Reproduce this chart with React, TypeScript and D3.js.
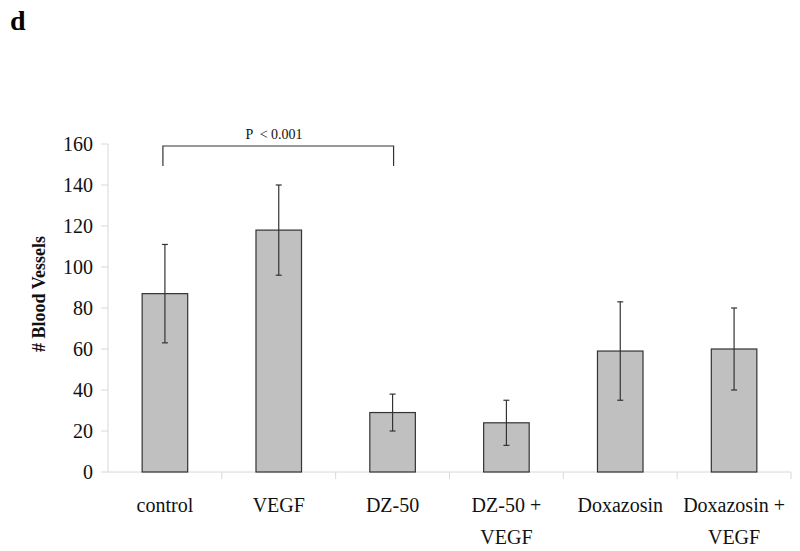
import React from "react";
import * as d3 from "d3";

const categories: string[][] = [
  ["control"],
  ["VEGF"],
  ["DZ-50"],
  ["DZ-50 +", "VEGF"],
  ["Doxazosin"],
  ["Doxazosin +", "VEGF"],
];
const means = [87, 118, 29, 24, 59, 60];
const errLow = [63, 96, 20, 13, 35, 40];
const errHigh = [111, 140, 38, 35, 83, 80];
const yTicks = [0, 20, 40, 60, 80, 100, 120, 140, 160];

const W = 800;
const H = 551;
const FONT = "'Liberation Serif', 'Times New Roman', serif";

export default function App() {
  const x = d3
    .scaleBand<number>()
    .domain(categories.map((_, i) => i))
    .range([108, 791])
    .paddingInner(0)
    .paddingOuter(0);
  const y = d3.scaleLinear().domain([0, 160]).range([472, 144]);
  const bw = x.bandwidth() * 0.4;
  const cx = (i: number) => (x(i) as number) + x.bandwidth() / 2;

  const b0 = cx(0);
  const b2 = cx(2);
  const bracketY = 146;

  return (
    <svg width={W} height={H} style={{ position: "absolute", left: 0, top: 0, background: "#fff" }}>
      <rect x={0} y={0} width={W} height={H} fill="#fff" />
      <text x={10} y={30} fontFamily={FONT} fontWeight="bold" fontSize={28}>
        d
      </text>
      {/* y axis */}
      <line x1={108} x2={108} y1={144} y2={472} stroke="#d8d8d8" strokeWidth={1} />
      {yTicks.map((t) => (
        <g key={t}>
          <line x1={101} x2={108} y1={y(t)} y2={y(t)} stroke="#d8d8d8" />
          <text
            x={93}
            y={y(t)}
            dy="0.35em"
            textAnchor="end"
            fontFamily={FONT}
            fontSize={20}
            fill="#111"
          >
            {t}
          </text>
        </g>
      ))}
      <text
        transform={`translate(45, 294) rotate(-90)`}
        textAnchor="middle"
        fontFamily={FONT}
        fontWeight="bold"
        fontSize={18}
        fill="#111"
      >
        # Blood Vessels
      </text>
      {/* x axis */}
      <line x1={108} x2={791} y1={472} y2={472} stroke="#d8d8d8" />
      {categories.map((_, i) => (
        <line
          key={i}
          x1={(x(i) as number) + x.bandwidth()}
          x2={(x(i) as number) + x.bandwidth()}
          y1={472}
          y2={479}
          stroke="#d8d8d8"
        />
      ))}
      {/* bars */}
      {means.map((m, i) => (
        <rect
          key={i}
          x={cx(i) - bw / 2}
          y={y(m)}
          width={bw}
          height={y(0) - y(m)}
          fill="#c0c0c0"
          stroke="#333"
          strokeWidth={1.2}
        />
      ))}
      {/* error bars */}
      {means.map((_, i) => (
        <g key={i} stroke="#333" strokeWidth={1.2}>
          <line x1={cx(i)} x2={cx(i)} y1={y(errHigh[i])} y2={y(errLow[i])} />
          <line x1={cx(i) - 3} x2={cx(i) + 3} y1={y(errHigh[i])} y2={y(errHigh[i])} />
          <line x1={cx(i) - 3} x2={cx(i) + 3} y1={y(errLow[i])} y2={y(errLow[i])} />
        </g>
      ))}
      {/* category labels */}
      {categories.map((lines, i) => (
        <text key={i} textAnchor="middle" fontFamily={FONT} fontSize={20} fill="#111">
          {lines.map((l, j) => (
            <tspan key={j} x={cx(i)} y={512 + j * 32}>
              {l}
            </tspan>
          ))}
        </text>
      ))}
      {/* significance bracket */}
      <path
        d={`M${b0 - 2},${bracketY + 20} V${bracketY} H${b2 + 1} V${bracketY + 20}`}
        fill="none"
        stroke="#333"
        strokeWidth={1.2}
      />
      <text x={274} y={139} textAnchor="middle" fontFamily={FONT} fontSize={14} fill="#111">
        P {"\u00a0<"} 0.001
      </text>
    </svg>
  );
}
